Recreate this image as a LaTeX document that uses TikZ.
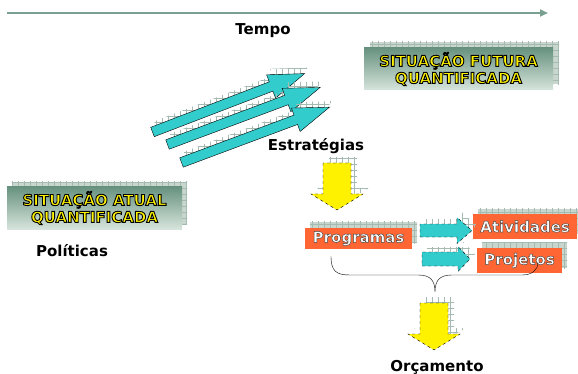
\documentclass[tikz,border=0pt]{standalone}
\usepackage{fontspec}
\setmainfont{DejaVu Sans}
\usetikzlibrary{arrows.meta,patterns.meta,backgrounds}

\definecolor{timegreen}{RGB}{122,160,146}
\definecolor{boxtop}{RGB}{104,146,128}
\definecolor{boxbottom}{RGB}{214,228,220}
\definecolor{shadowfill}{RGB}{200,214,206}
\definecolor{shadowline}{RGB}{165,186,176}
\definecolor{tealarrow}{RGB}{51,204,204}
\definecolor{progorange}{RGB}{255,102,51}

% text drawn with an outline (fill + stroke)
\newcommand{\outlined}[2]{\leavevmode\special{pdf:literal direct q #1 2 Tr}#2\special{pdf:literal direct 0 Tr Q}}
\newcommand{\yellowtxt}[1]{\outlined{0 G 0.9 w}{#1}}
\newcommand{\whitetxt}[1]{\outlined{0.25 G 0.45 w}{#1}}

\tikzset{
  pics/blockarrow/.style n args={4}{code={
    \path[pic actions] (0,#2) -- (#1-#4,#2) -- (#1-#4,#3) -- (#1,0)
      -- (#1-#4,-#3) -- (#1-#4,-#2) -- (0,-#2) -- cycle;
  }},
  hatched/.style={preaction={fill=shadowfill}, pattern={Hatch[angle=0,distance=6pt,line width=0.5pt]}, pattern color=shadowline},
  situbox/.style={top color=boxtop, bottom color=boxbottom, text=yellow, align=center, inner sep=0pt,
    font=\fontsize{15}{17}\selectfont\bfseries},
  orangebox/.style={fill=progorange, text=white, inner sep=0pt, font=\fontsize{15}{17}\selectfont\bfseries},
  label/.style={font=\fontsize{15}{17}\selectfont\bfseries},
}

\begin{document}
\begin{tikzpicture}[x=1pt, y=-1pt, >=latex]
  \useasboundingbox (0,0) rectangle (578,374);

  \draw[timegreen, line width=2.2pt, -{Triangle[length=8pt,width=7pt]}] (7,13) -- (548,13);
  \node[label] (tempo) at (263,31) {Tempo};

  \node[situbox, minimum width=189pt, minimum height=42pt] (futura) at (458.5,69)
    {\yellowtxt{SITUAÇÃO FUTURA}\\\yellowtxt{QUANTIFICADA}};
  \node[situbox, minimum width=175pt, minimum height=42pt] (atual) at (94.5,208)
    {\yellowtxt{SITUAÇÃO ATUAL}\\\yellowtxt{QUANTIFICADA}};
  \node[label] (politicas) at (72,251) {Políticas};

  \node[orangebox, minimum width=107pt, minimum height=21pt] (programas) at (358.5,238.5) {\whitetxt{Programas}};
  \node[orangebox, minimum width=104pt, minimum height=25pt] (atividades) at (525,226.5) {\whitetxt{Atividades}};
  \node[orangebox, minimum width=85pt, minimum height=25pt] (projetos) at (519.5,260.5) {\whitetxt{Projetos}};

  \begin{scope}[on background layer]
    \path[hatched] ([shift={(6,-6)}]futura.south west) rectangle ([shift={(6,-6)}]futura.north east);
    \path[hatched] ([shift={(5,-5)}]atual.south west) rectangle ([shift={(5,-5)}]atual.north east);
    \path[hatched] ([shift={(5,-6)}]programas.south west) rectangle ([shift={(5,-6)}]programas.north east);
    \path[hatched] ([shift={(5,-5)}]atividades.south west) rectangle ([shift={(5,-5)}]atividades.north east);
    \path[hatched] ([shift={(5,-5)}]projetos.south west) rectangle ([shift={(5,-5)}]projetos.north east);
  \end{scope}

  % estrategias
  \pic[hatched, rotate=21] at (156,126) {blockarrow={163}{5}{12.5}{36}};
  \pic[draw, fill=tealarrow, rotate=21] at (152.5,132) {blockarrow={163}{5}{12.5}{36}};
  \pic[hatched, rotate=20.5] at (171.5,138.5) {blockarrow={163}{5}{12.5}{36}};
  \pic[draw, fill=tealarrow, rotate=20.5] at (167.5,144.5) {blockarrow={163}{5}{12.5}{36}};
  \pic[hatched, rotate=20.5] at (185.5,156.5) {blockarrow={158}{5}{12.5}{36}};
  \pic[draw, fill=tealarrow, rotate=20.5] at (181.5,162.5) {blockarrow={158}{5}{12.5}{36}};
  \node[label] (estrategias) at (316,146) {Estratégias};

  \pic[hatched, rotate=-90] at (343,157) {blockarrow={47}{14}{26}{16}};
  \pic[draw, dashed, fill=yellow, rotate=-90] at (337,163) {blockarrow={47}{14}{26}{16}};

  \pic[hatched] at (425,225.5) {blockarrow={52}{6.5}{13}{15}};
  \pic[draw, dashed, fill=tealarrow] at (420,230.5) {blockarrow={52}{6.5}{13}{15}};
  \pic[hatched] at (427,254) {blockarrow={48}{7}{12.5}{12}};
  \pic[draw, dashed, fill=tealarrow] at (422,259) {blockarrow={48}{7}{12.5}{12}};

  \draw (331,256) .. controls (331,271) and (336,275) .. (350,275) -- (418,275)
    .. controls (430,275) and (435,280) .. (435,292)
    .. controls (435,280) and (440,275) .. (452,275) -- (522,275)
    .. controls (532,275) and (538,270) .. (538,262);

  \pic[hatched, rotate=-90] at (440,297) {blockarrow={47}{14}{26}{16}};
  \pic[draw, dashed, fill=yellow, rotate=-90] at (434,303) {blockarrow={47}{14}{26}{16}};
  \node[label] (orcamento) at (437,367) {Orçamento};
\end{tikzpicture}
\end{document}
